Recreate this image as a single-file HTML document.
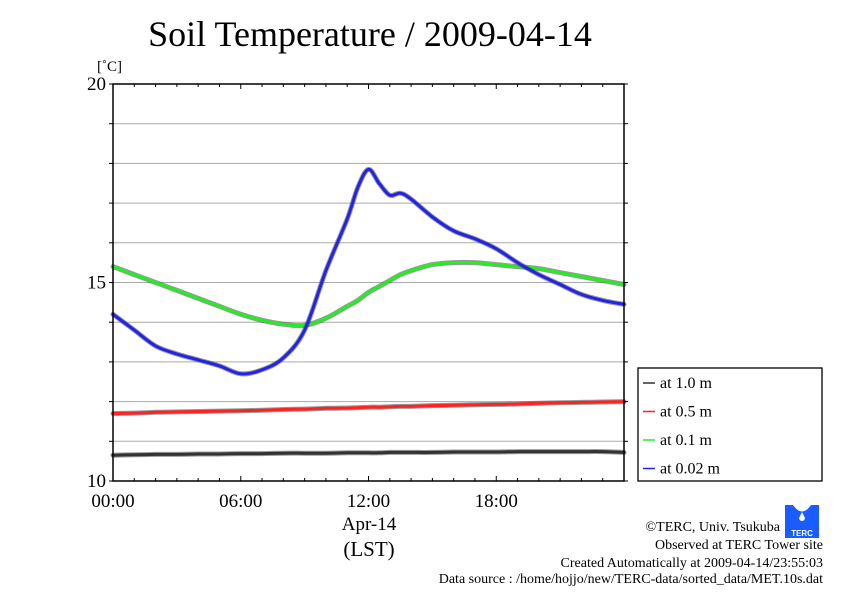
<!DOCTYPE html>
<html><head><meta charset="utf-8"><style>
body{margin:0;background:#fff}
svg{display:block;font-family:"Liberation Serif",serif}
</style></head><body>
<svg id="c" width="842" height="595">
<text x="370" y="46" font-size="36" text-anchor="middle">Soil Temperature / 2009-04-14</text>
<text x="97" y="71" font-size="15">[˚C]</text>
<g id="grid"></g><g id="series"></g><g id="axes"></g>
<text x="369" y="530" font-size="19" text-anchor="middle">Apr-14</text>
<text x="369" y="556" font-size="21" text-anchor="middle">(LST)</text>
<g>
<rect x="638" y="368" width="184" height="113" fill="#fff" stroke="#000" stroke-width="1.3"/>
<g id="leg"></g></g>
<g>
<rect x="785" y="505" width="34" height="33" fill="#1a5cff"/>
<path d="M793 505 Q802 518 811 505 Z" fill="#fff"/>
<path d="M802 512 l-3 6 a3 3 0 0 0 6 0 z" fill="#fff"/>
<text x="802" y="536" font-size="8" fill="#fff" text-anchor="middle" font-family="Liberation Sans,sans-serif" font-weight="bold">TERC</text>
</g>
<g font-size="14" text-anchor="end">
<text x="780" y="531">©TERC, Univ. Tsukuba</text>
<text x="823" y="549">Observed at TERC Tower site</text>
<text x="823" y="567">Created Automatically at 2009-04-14/23:55:03</text>
<text x="823" y="583">Data source : /home/hojjo/new/TERC-data/sorted_data/MET.10s.dat</text>
</g>
</svg>
<script>
const hours=[0,1,2,3,4,5,6,7,8,9,10,11,11.5,12,12.5,13,13.5,14,15,16,17,18,19,20,21,22,23,24];
const t002=[14.2,13.8,13.4,13.2,13.05,12.9,12.7,12.8,13.1,13.8,15.3,16.6,17.4,17.85,17.5,17.2,17.25,17.1,16.65,16.3,16.1,15.85,15.5,15.2,14.95,14.7,14.55,14.45];
const t01=[15.4,15.2,15.0,14.8,14.6,14.4,14.2,14.05,13.95,13.92,14.1,14.4,14.55,14.75,14.9,15.05,15.2,15.3,15.45,15.5,15.5,15.45,15.4,15.35,15.25,15.15,15.05,14.95];
const t05=[11.7,11.71,11.73,11.74,11.75,11.76,11.77,11.78,11.8,11.81,11.83,11.84,11.85,11.86,11.86,11.87,11.88,11.88,11.9,11.91,11.92,11.93,11.94,11.96,11.97,11.98,11.99,12.0];
const t10=[10.65,10.66,10.67,10.67,10.68,10.68,10.69,10.69,10.7,10.7,10.7,10.71,10.71,10.71,10.71,10.72,10.72,10.72,10.72,10.73,10.73,10.73,10.74,10.74,10.74,10.74,10.74,10.72];
const yTicks=[10,15,20];
const xTicks=["00:00","06:00","12:00","18:00"];
const seriesNames=["at 1.0 m","at 0.5 m","at 0.1 m","at 0.02 m"];
const colors=["#333","#f22","#2e2","#22e"];
const X0=113,X1=624,Y0=481,Y1=84;
const xs=h=>X0+(X1-X0)*h/24, ys=v=>Y0-(Y0-Y1)*(v-10)/10;
const NS="http://www.w3.org/2000/svg";
function mk(tag,attrs,parent){const e=document.createElementNS(NS,tag);for(const k in attrs)e.setAttribute(k,attrs[k]);parent.appendChild(e);return e;}
function smooth(pts){let d='M'+pts[0][0].toFixed(1)+' '+pts[0][1].toFixed(1);
for(let i=0;i<pts.length-1;i++){const p0=pts[Math.max(i-1,0)],p1=pts[i],p2=pts[i+1],p3=pts[Math.min(i+2,pts.length-1)];
const c1=[p1[0]+(p2[0]-p0[0])/6,p1[1]+(p2[1]-p0[1])/6],c2=[p2[0]-(p3[0]-p1[0])/6,p2[1]-(p3[1]-p1[1])/6];
d+=' C'+c1.map(v=>v.toFixed(1)).join(' ')+' '+c2.map(v=>v.toFixed(1)).join(' ')+' '+p2[0].toFixed(1)+' '+p2[1].toFixed(1);}
return d;}
const grid=document.getElementById('grid'),axes=document.getElementById('axes'),ser=document.getElementById('series'),leg=document.getElementById('leg');
for(let v=11;v<20;v++){const l=mk('line',{x1:X0,x2:X1,y1:ys(v),y2:ys(v),stroke:'#aaa','stroke-width':1},grid);

}
const fr=mk('rect',{x:X0,y:Y1,width:X1-X0,height:Y0-Y1,fill:'none',stroke:'#000','stroke-width':1.5},axes);


for(let h=0;h<=24;h++){const len=h%6==0?5:3;
mk('line',{x1:xs(h),x2:xs(h),y1:Y1,y2:Y1+len,stroke:'#000'},axes);
mk('line',{x1:xs(h),x2:xs(h),y1:Y0,y2:Y0-len,stroke:'#000'},axes);}
for(let v=10;v<=20;v++){mk('line',{x1:X0-4,x2:X0,y1:ys(v),y2:ys(v),stroke:'#000'},axes);mk('line',{x1:X1,x2:X1+4,y1:ys(v),y2:ys(v),stroke:'#000'},axes);}
yTicks.forEach(v=>{const t=mk('text',{x:X0-7,y:ys(v)+6,'font-size':19,'text-anchor':'end'},axes);t.textContent=v;

});
xTicks.forEach((s,i)=>{const t=mk('text',{x:xs(i*6),y:507,'font-size':19,'text-anchor':'middle'},axes);t.textContent=s;

});
[t10,t05,t01,t002].forEach((arr,i)=>{const d=smooth(arr.map((v,j)=>[xs(hours[j]),ys(v)]));
const o=mk('path',{d:d,fill:'none',stroke:'#555','stroke-width':5,'stroke-linejoin':'round','stroke-linecap':'round',opacity:0.6},ser);


const p=mk('path',{d:d,fill:'none',stroke:colors[i],'stroke-width':3,'stroke-linejoin':'round','stroke-linecap':'round'},ser);


const y=383+i*28.5;
mk('line',{x1:643,x2:655,y1:y,y2:y,stroke:colors[i],'stroke-width':1.5},leg);
const t=mk('text',{x:660,y:y+5,'font-size':16},leg);t.textContent=seriesNames[i];

});
</script>
</body></html>
